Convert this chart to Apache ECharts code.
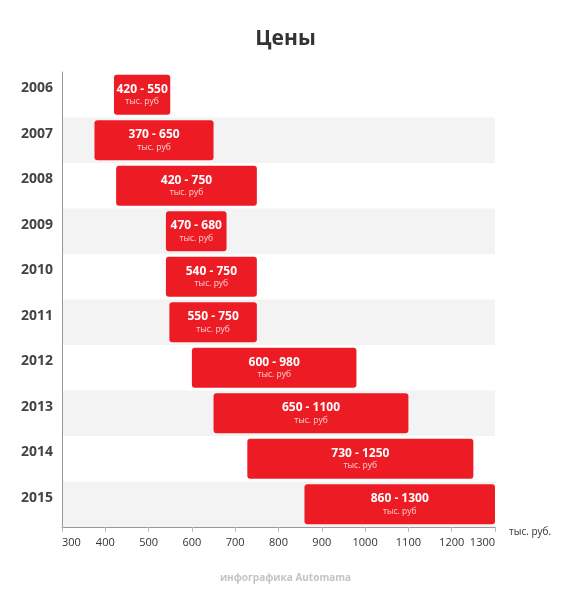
<!DOCTYPE html>
<html><head><meta charset="utf-8">
<script src="https://cdn.jsdelivr.net/npm/echarts@6/dist/echarts.min.js"></script>
<style>html,body{margin:0;padding:0;background:#fff}#c{width:571px;height:600px}</style>
</head><body><div id="c"></div>
<script>
const years = ['2006','2007','2008','2009','2010','2011','2012','2013','2014','2015'];
// price ranges as labelled
const minPrice = [420,370,420,470,540,550,600,650,730,860];
const maxPrice = [550,650,750,680,750,750,980,1100,1250,1300];
// where each bar is actually drawn from in the picture (2009 bar starts near 540)
const barFrom = [420,375,425,540,540,548,600,650,728,860];
const xTicks = [300,400,500,600,700,800,900,1000,1100,1200,1300];
const unitLabel = 'тыс. руб';
const axisName = 'тыс. руб.';
const titleText = 'Цены';
const footerText = 'инфографика Automama';

const FONT = '"Open Sans", sans-serif';
const chart = echarts.init(document.getElementById('c'));
chart.setOption({
  animation: false,
  backgroundColor: '#fff',
  title: [{
    text: titleText, left: 'center', top: 24,
    textStyle: {fontFamily: FONT, fontWeight: 'bold', fontSize: 21, color: '#333'}
  }, {
    text: footerText, left: 'center', top: 568,
    textStyle: {fontFamily: FONT, fontWeight: 'bold', fontSize: 10, color: '#c4c4c4'}
  }],
  grid: {left: 62, right: 76, top: 72, bottom: 73, containLabel: false},
  xAxis: {
    type: 'value', min: xTicks[0], max: xTicks[xTicks.length-1], interval: 100,
    name: axisName, nameLocation: 'end', nameGap: 14,
    nameTextStyle: {fontFamily: FONT, fontSize: 10, color: '#333', verticalAlign: 'top', padding: [0,0,0,0]},
    axisLine: {show: true, lineStyle: {color: '#999'}},
    axisTick: {show: true, length: 5, lineStyle: {color: '#bbb'}},
    splitLine: {show: false},
    axisLabel: {fontFamily: FONT, fontSize: 11, color: '#333', margin: 10,
      alignMinLabel: 'left', alignMaxLabel: 'right', formatter: v => String(v)}
  },
  yAxis: {
    type: 'category', data: years, inverse: true,
    axisLine: {show: true, lineStyle: {color: '#999'}},
    axisTick: {show: false},
    splitArea: {show: true, areaStyle: {color: ['#ffffff', '#f3f3f3']}},
    axisLabel: {fontFamily: FONT, fontWeight: 'bold', fontSize: 14, color: '#444', margin: 9,
      verticalAlign: 'bottom', lineHeight: 13}
  },
  series: [{
    type: 'bar', stack: 'r', data: barFrom,
    itemStyle: {color: 'transparent'}, silent: true, barWidth: '88%'
  }, {
    type: 'bar', stack: 'r', barWidth: '88%',
    data: maxPrice.map((v, i) => v - barFrom[i]),
    itemStyle: {color: '#ED1C24', borderRadius: 3},
    label: {
      show: true, position: 'inside',
      formatter: p => '{a|' + minPrice[p.dataIndex] + ' - ' + maxPrice[p.dataIndex] + '}\n{b|' + unitLabel + '}',
      rich: {
        a: {fontFamily: FONT, fontWeight: 'bold', fontSize: 12, color: '#fff', lineHeight: 14},
        b: {fontFamily: FONT, fontSize: 8.5, color: '#fbd0d0', lineHeight: 11}
      }
    }
  }]
});
</script></body></html>
